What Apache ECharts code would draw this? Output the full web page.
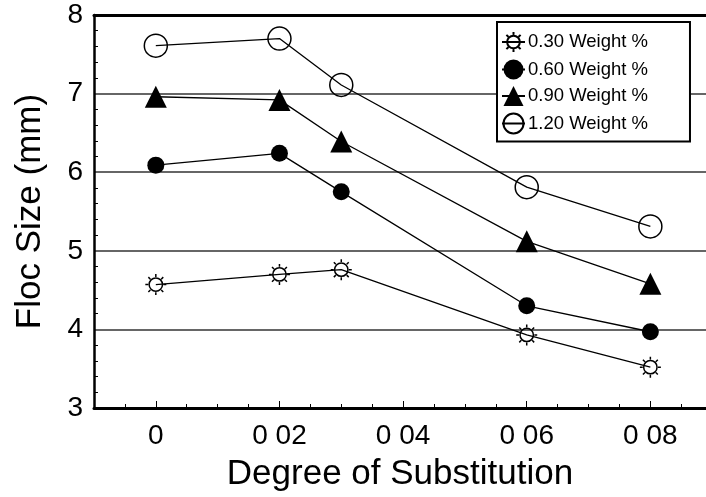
<!DOCTYPE html>
<html>
<head>
<meta charset="utf-8">
<script src="https://cdn.jsdelivr.net/npm/echarts@6/dist/echarts.min.js"></script>
<style>
html, body { margin: 0; padding: 0; background: #fff; }
#chart { width: 706px; height: 497px; }
</style>
</head>
<body>
<div id="chart"></div>
<script>
var degree = [0, 0.02, 0.03, 0.06, 0.08];
var w030 = [4.57, 4.70, 4.76, 3.93, 3.52];
var w060 = [6.09, 6.24, 5.75, 4.30, 3.97];
var w090 = [6.96, 6.92, 6.39, 5.12, 4.58];
var w120 = [7.61, 7.70, 7.11, 5.81, 5.31];
var seriesNames = ['0.30 Weight %', '0.60 Weight %', '0.90 Weight %', '1.20 Weight %'];
var xTickValues = [0, 0.02, 0.04, 0.06, 0.08];
var xTickLabels = ['0', '0 02', '0 04', '0 06', '0 08'];

var font = 'Liberation Sans, Arial, Helvetica, sans-serif';
// sun-like marker: hollow circle with 8 short rays
var sun = 'path://M19,12A7,7 0 1,1 5,12A7,7 0 1,1 19,12Z' +
    'M12,1L12,4M12,20L12,23M1,12L4,12M20,12L23,12' +
    'M4.2,4.2L6.3,6.3M17.7,17.7L19.8,19.8M19.8,4.2L17.7,6.3M6.3,17.7L4.2,19.8';

function pairs(vals) {
    return degree.map(function (d, i) { return [d, vals[i]]; });
}

function makeSeries(name, vals, symbol, size, hollow) {
    return {
        name: name,
        type: 'line',
        data: pairs(vals),
        symbol: symbol,
        symbolSize: size,
        showAllSymbol: true,
        lineStyle: { color: '#000', width: 1.3 },
        itemStyle: hollow
            ? { color: 'rgba(0,0,0,0)', borderColor: '#000', borderWidth: 1.5 }
            : { color: '#000', borderColor: '#000', borderWidth: 0 },
        emphasis: { disabled: true },
        z: 3
    };
}

var myChart = echarts.init(document.getElementById('chart'));

option = {
    animation: false,
    backgroundColor: '#fff',
    grid: { left: 94, top: 15, right: 0, bottom: 89 },
    legend: {
        orient: 'vertical',
        left: 497,
        top: 22,
        padding: [9, 42, 7, 4],
        itemGap: 6.5,
        itemWidth: 23,
        itemHeight: 25,
        borderColor: '#000',
        borderWidth: 2,
        backgroundColor: '#fff',
        textStyle: { fontFamily: font, fontSize: 18.5, color: '#000', padding: [0, 0, 0, -2] },
        data: seriesNames
    },
    xAxis: [
        {
            type: 'value',
            min: -0.01,
            max: 0.089,
            interval: 0.005,
            axisLine: { onZero: false, lineStyle: { color: '#000', width: 3 } },
            axisTick: { inside: true, length: 4, lineStyle: { color: '#000', width: 1 } },
            axisLabel: { show: false },
            splitLine: { show: false },
            name: 'Degree of Substitution',
            nameLocation: 'middle',
            nameGap: 49,
            nameTextStyle: { fontFamily: font, fontSize: 35, color: '#000' }
        },
        {
            type: 'value',
            min: -0.01,
            max: 0.089,
            position: 'bottom',
            axisLine: { show: false },
            axisTick: { inside: true, length: 7, customValues: xTickValues, lineStyle: { color: '#000', width: 1 } },
            axisLabel: {
                customValues: xTickValues,
                margin: 14,
                fontFamily: font,
                fontSize: 28,
                color: '#000',
                formatter: function (v) {
                    var i = xTickValues.indexOf(Math.round(v * 100) / 100);
                    return i >= 0 ? xTickLabels[i] : '';
                }
            },
            splitLine: { show: false }
        },
        {
            type: 'value',
            min: -0.01,
            max: 0.089,
            position: 'top',
            axisLine: { onZero: false, lineStyle: { color: '#000', width: 3 } },
            axisTick: { show: false },
            axisLabel: { show: false },
            splitLine: { show: false }
        }
    ],
    yAxis: {
        type: 'value',
        min: 3,
        max: 8,
        interval: 1,
        axisLine: { show: true, onZero: false, lineStyle: { color: '#000', width: 2.5 } },
        axisTick: { show: false, inside: true },
        minorTick: { show: true, splitNumber: 5, length: 4, lineStyle: { color: '#000', width: 1 } },
        axisLabel: { margin: 11, fontFamily: font, fontSize: 28, color: '#000' },
        splitLine: { show: true, lineStyle: { color: '#333', width: 1.5 } },
        name: 'Floc Size (mm)',
        nameLocation: 'middle',
        nameGap: 46,
        nameTextStyle: { fontFamily: font, fontSize: 35, color: '#000' }
    },
    series: [
        makeSeries(seriesNames[0], w030, sun, 21, true),
        makeSeries(seriesNames[1], w060, 'circle', 17, false),
        makeSeries(seriesNames[2], w090, 'triangle', 22, false),
        makeSeries(seriesNames[3], w120, 'circle', 23, true)
    ]
};
myChart.setOption(option);
</script>
</body>
</html>
